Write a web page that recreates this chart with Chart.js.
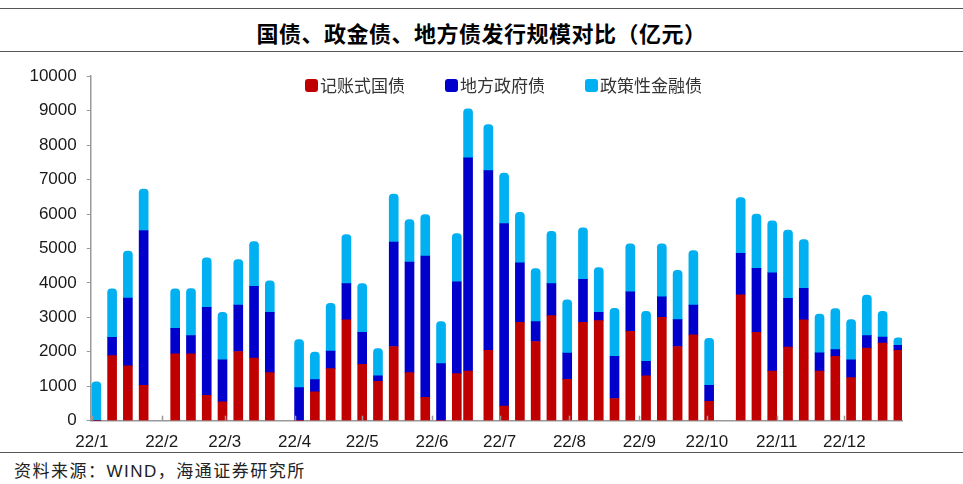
<!DOCTYPE html>
<html>
<head>
<meta charset="utf-8">
<script src="https://cdn.jsdelivr.net/npm/chart.js@4.4.0/dist/chart.umd.min.js"></script>
<style>
  html, body { margin: 0; padding: 0; background: #fff; }
  #page { position: relative; width: 963px; height: 484px; overflow: hidden; font-family: "Noto Sans CJK SC", "Liberation Sans", sans-serif; }
  .rule { position: absolute; left: 0; width: 963px; height: 0; border-top: 1.5px solid #555; }
  #title { position: absolute; left: 0; width: 963px; top: 19px; text-align: center; font-size: 22px; letter-spacing: 0.5px; font-weight: bold; color: #000; line-height: 26px; }
  #legend { position: absolute; left: 305px; top: 74px; display: flex; gap: 40px; font-size: 17px; color: #333; line-height: 22px; }
  #legend .item { display: flex; align-items: center; }
  #legend .box { width: 13px; height: 13px; border-radius: 3px; margin-right: 2px; }
  #source { position: absolute; left: 14px; top: 459px; font-size: 17px; letter-spacing: 1.5px; color: #222; line-height: 22px; }
  #chartWrap { position: absolute; left: 0; top: 56px; }
</style>
</head>
<body>
<div id="page">
  <div class="rule" style="top:8px"></div>
  <div id="title">国债、政金债、地方债发行规模对比（亿元）</div>
  <div class="rule" style="top:51px"></div>
  <div id="chartWrap"><canvas id="chart" width="963" height="396"></canvas></div>
  <div id="legend"></div>
  <div class="rule" style="top:452px"></div>
  <div id="source">资料来源：<span style="font-family:'Liberation Sans'">WIND</span>，海通证券研究所</div>
</div>
<script>
// day of year (0 = 2022-01-01) for each weekly bar
const days = [2, 9, 16, 23, 37, 44, 51, 58, 65, 72, 79,
  92, 99, 106, 113, 120, 127, 134, 141, 148, 155, 162, 167,
  176, 183, 190, 197, 204, 211, 218, 225, 232, 239, 246, 253, 260, 267, 274,
  288, 295, 302, 309, 316, 323, 330, 337, 344, 351, 358];

const treasury = [0, 1890, 1590, 1030, 1940, 1940, 740, 550, 2010, 1820, 1395,
  0, 835, 1510, 2930, 1635, 1145, 2155, 1395, 675, 0, 1365, 1440,
  2040, 425, 2855, 2300, 3050, 1200, 2855, 2905, 645, 2595, 1300, 3000, 2155, 2490, 565,
  3655, 2565, 1440, 2135, 2925, 1440, 1865, 1250, 2105, 2250, 2040];

const localGov = [0, 530, 1970, 4490, 740, 530, 2550, 1220, 1345, 2080, 1750,
  960, 355, 510, 1050, 930, 155, 3030, 3210, 4105, 1655, 2665, 6190,
  5220, 5300, 1730, 575, 930, 760, 1250, 240, 1220, 1145, 425, 595, 780, 865, 460,
  1200, 1855, 2855, 1415, 920, 530, 200, 520, 365, 175, 145];

const policyBank = [1125, 1410, 1365, 1200, 1150, 1365, 1440, 1375, 1325, 1300, 915,
  1395, 800, 1385, 1420, 1415, 790, 1395, 1230, 1200, 1220, 1405, 1425,
  1335, 1460, 1460, 1540, 1520, 1550, 1490, 1300, 1395, 1395, 1450, 1540, 1430, 1585, 1365,
  1625, 1575, 1510, 1980, 1415, 1125, 1190, 1165, 1180, 750, 220];

const monthStarts = [0, 31, 59, 90, 120, 151, 181, 212, 243, 273, 304, 334];
const monthLabels = ['22/1', '22/2', '22/3', '22/4', '22/5', '22/6', '22/7', '22/8', '22/9', '22/10', '22/11', '22/12'];

const seriesNames = ['记账式国债', '地方政府债', '政策性金融债'];
const seriesColors = ['#C00000', '#0000CC', '#00B0F0'];

const toPoints = vals => vals.map((v, i) => ({ x: days[i], y: v }));

// legend
const legendEl = document.getElementById('legend');
seriesNames.forEach((name, i) => {
  const item = document.createElement('div');
  item.className = 'item';
  item.innerHTML = `<span class="box" style="background:${seriesColors[i]}"></span><span>${name}</span>`;
  legendEl.appendChild(item);
});

// small inward tick marks on the x axis at each month start
const innerTicks = {
  id: 'innerTicks',
  afterDraw(chart) {
    const x = chart.scales.x;
    const ctx = chart.ctx;
    ctx.save();
    ctx.strokeStyle = '#999';
    ctx.lineWidth = 1.5;
    x.ticks.forEach(t => {
      const px = Math.round(x.getPixelForValue(t.value)) + 0.5;
      ctx.beginPath();
      ctx.moveTo(px, x.top);
      ctx.lineTo(px, x.top - 5);
      ctx.stroke();
    });
    ctx.restore();
  }
};

new Chart(document.getElementById('chart'), {
  type: 'bar',
  data: {
    datasets: [
      { label: seriesNames[0], data: toPoints(treasury), backgroundColor: seriesColors[0] },
      { label: seriesNames[1], data: toPoints(localGov), backgroundColor: seriesColors[1] },
      {
        label: seriesNames[2], data: toPoints(policyBank), backgroundColor: seriesColors[2],
        borderRadius: { topLeft: 4, topRight: 4 }, borderSkipped: 'bottom'
      }
    ]
  },
  plugins: [innerTicks],
  options: {
    responsive: false,
    animation: false,
    barThickness: 9,
    layout: { padding: { top: 18, right: 61, left: 0, bottom: 0 } },
    plugins: {
      legend: { display: false },
      tooltip: { enabled: false }
    },
    scales: {
      x: {
        type: 'linear',
        stacked: true,
        offset: false,
        min: -0.5,
        max: 359.6,
        afterBuildTicks: scale => { scale.ticks = monthStarts.map(v => ({ value: v })); },
        afterFit: scale => { scale.height = 31.3; },
        grid: { display: false, drawTicks: false },
        border: { color: '#999', width: 1.5 },
        ticks: {
          padding: 11,
          autoSkip: false,
          maxRotation: 0,
          color: '#1a1a1a',
          font: { family: 'Liberation Sans', size: 17 },
          callback: value => monthLabels[monthStarts.indexOf(value)]
        }
      },
      y: {
        stacked: true,
        min: 0,
        max: 10000,
        afterFit: scale => { scale.width = 90.7; },
        grid: { drawOnChartArea: false, tickLength: 4, color: '#999' },
        border: { color: '#999', width: 1.5 },
        ticks: {
          stepSize: 1000,
          padding: 10,
          color: '#1a1a1a',
          font: { family: 'Liberation Sans', size: 17 },
          callback: value => String(value)
        }
      }
    }
  }
});
</script>
</body>
</html>
